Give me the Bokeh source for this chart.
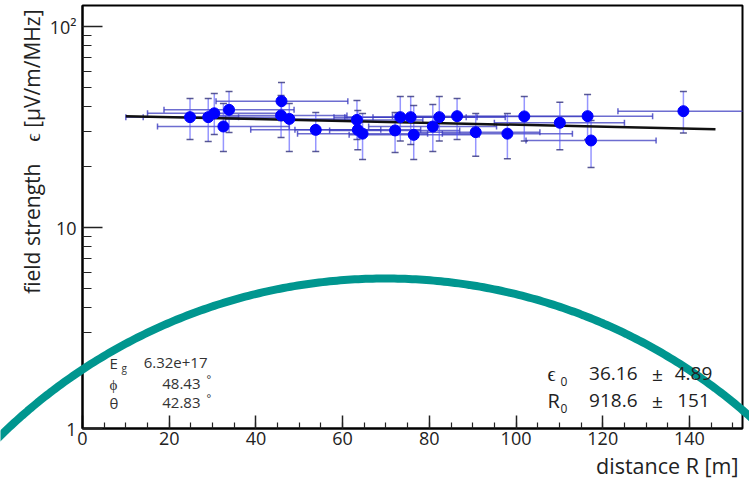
import numpy as np
from bokeh.plotting import figure
from bokeh.models import (Range1d, FixedTicker, SingleIntervalTicker, Whisker,
                          ColumnDataSource, Label, TeeHead, GridBox, Column)
from bokeh.embed import file_html
from bokeh.resources import INLINE

# ---------------- data ----------------
dist = [24.8, 29.0, 30.4, 32.5, 33.8, 45.9, 45.8, 47.7, 53.8, 63.3, 63.5, 64.6, 72.1,
        73.3, 75.7, 76.4, 80.8, 82.3, 86.4, 90.7, 98.0, 101.9, 110.1, 116.5, 117.3, 138.6]
field = [35.4, 35.4, 37.0, 31.8, 38.5, 42.5, 36.1, 34.7, 30.6, 34.3, 30.6, 29.3, 30.4,
         35.4, 35.4, 28.9, 31.8, 35.4, 35.8, 29.8, 29.3, 35.7, 33.2, 35.8, 27.1, 37.9]
field_hi = [43.8, 43.8, 46.4, 41.4, 47.5, 52.7, 45.4, 41.4, 37.3, 42.8, 38.2, 36.9, 37.3,
            44.8, 44.8, 40.5, 40.9, 44.8, 43.8, 36.9, 36.9, 44.8, 42.0, 45.9, 34.1, 47.5]
field_lo = [27.4, 26.8, 29.0, 23.9, 29.7, 34.1, 28.0, 23.9, 23.9, 27.4, 24.4, 21.8, 23.6,
            26.9, 25.9, 21.8, 23.9, 26.9, 27.4, 22.6, 22.0, 26.9, 24.4, 27.4, 19.9, 29.5]
dist_lo = [14.0, 10.0, 15.0, 17.3, 18.8, 30.8, 30.5, 33.0, 38.8, 48.0, 49.0, 49.6, 57.0,
           58.0, 60.5, 61.5, 66.0, 67.0, 71.5, 76.0, 83.0, 87.0, 95.0, 101.5, 102.3, 123.5]
dist_hi = [36.0, 48.0, 46.0, 47.7, 48.8, 61.2, 61.0, 62.5, 68.8, 78.5, 78.0, 79.6, 87.0,
           88.5, 91.0, 91.5, 95.5, 97.5, 101.5, 105.5, 113.0, 117.0, 125.0, 131.5, 132.3, 153.6]

fit_x = [10.0, 146.0]
fit_y = [35.8, 30.85]

y_ticks = [1, 10, 100]
y_minor = [2, 3, 4, 5, 6, 7, 8, 9, 20, 30, 40, 50, 60, 70, 80, 90]
y_tick_labels = {1: "1", 10: "10", 100: "10\u00b2"}

NB = "\u00a0"
y_title = "field strength" + NB * 4 + "\u03f5 [\u00b5V/m/MHz]"
x_title = "distance R [m]"
params_left = [("E", "g", "6.32e+17", ""), ("\u03d5", "", "48.43", "\u00b0"), ("\u03b8", "", "42.83", "\u00b0")]
params_right = [("\u03f5", "0", "36.16", "4.89"), ("R", "0", "918.6", "151")]

# ---------------- layout ----------------
W, H = 749, 481
BL, BR, BT, BB = 82, 7, 5, 53
FRAME_W = W - BL - BR
FRAME_H = H - BT - BB
PX_PER_X = 4.3355
PX_PER_DEC = 201.0
X_END = FRAME_W / PX_PER_X
Y_TOP = 10 ** (FRAME_H / PX_PER_DEC)

FONT = "Open Sans"
TEAL = "#00968f"

p = figure(width=W, height=H, x_range=Range1d(0, X_END), y_range=Range1d(1, Y_TOP),
           y_axis_type="log", output_backend="svg", toolbar_location=None,
           min_border_left=BL, min_border_right=BR, min_border_top=BT, min_border_bottom=BB)
p.xgrid.visible = False
p.ygrid.visible = False
p.outline_line_color = "black"
p.outline_line_width = 2
p.background_fill_color = "white"
p.border_fill_color = "white"

xa = p.xaxis[0]
xa.ticker = SingleIntervalTicker(interval=20, num_minor_ticks=4)
xa.major_tick_in = 13
xa.major_tick_out = 0
xa.minor_tick_in = 6
xa.minor_tick_out = 0
xa.major_label_standoff = 3

ya = p.yaxis[0]
ya.ticker = FixedTicker(ticks=y_ticks, minor_ticks=y_minor)
ya.major_label_overrides = y_tick_labels
ya.major_tick_in = 20
ya.major_tick_out = 0
ya.minor_tick_in = 9
ya.minor_tick_out = 0
ya.major_label_standoff = 6

for ax in (xa, ya):
    ax.axis_line_color = "black"
    ax.axis_line_width = 2
    ax.major_tick_line_color = "#222222"
    ax.minor_tick_line_color = "#222222"
    ax.major_tick_line_width = 1.5
    ax.minor_tick_line_width = 1.2
    ax.major_label_text_font = FONT
    ax.major_label_text_font_size = "18px"
    ax.major_label_text_color = "#222222"

# ---------------- data marks ----------------
src = ColumnDataSource(dict(x=dist, y=field, ylo=field_lo, yhi=field_hi, xlo=dist_lo, xhi=dist_hi))

wh = Whisker(base="y", lower="xlo", upper="xhi", source=src, dimension="width",
             line_color="#3c3cc0", line_alpha=0.75, line_width=1.5,
             upper_head=TeeHead(size=6, line_color="#3c3cc0", line_alpha=0.8, line_width=1.5),
             lower_head=TeeHead(size=6, line_color="#3c3cc0", line_alpha=0.8, line_width=1.5))
wv = Whisker(base="x", lower="ylo", upper="yhi", source=src, dimension="height",
             line_color="#5050ff", line_alpha=0.6, line_width=1.5,
             upper_head=TeeHead(size=7, line_color="#30307a", line_alpha=0.8, line_width=1.5),
             lower_head=TeeHead(size=7, line_color="#30307a", line_alpha=0.8, line_width=1.5))
p.add_layout(wh)
p.add_layout(wv)

p.line(fit_x, fit_y, line_color="#111111", line_width=2.5)
p.scatter("x", "y", source=src, size=11, color="#0000ff")

# ---------------- overlay figure in page pixels (texts + teal arc) ----------------
q = figure(width=W, height=H, x_range=Range1d(0, W), y_range=Range1d(H, 0),
           x_axis_location=None, y_axis_location=None, toolbar_location=None,
           output_backend="svg", min_border=0)
q.grid.visible = False
q.outline_line_color = None
q.background_fill_alpha = 0
q.border_fill_alpha = 0

def lab(sx, sy, text, size, align="left", baseline="middle", color="#222222", angle=0):
    q.add_layout(Label(x=sx, y=sy, text=text, text_font=FONT, text_font_size=size,
                       text_align=align, text_baseline=baseline, text_color=color,
                       angle=angle, angle_units="deg"))

lab(31, 9, y_title, "21px", align="right", angle=90)
lab(738, 465, x_title, "21.5px", align="right")

rows_y = [362, 383, 402]
for (sym, sub, val, unit), ry in zip(params_left, rows_y):
    lab(109, ry, sym, "15px", color="#333333")
    if sub:
        lab(121, ry + 5, sub, "10px", color="#333333")
    lab(207 if not unit else 200, ry, val, "15px", align="right", color="#333333")
    if unit:
        lab(206, ry - 5, unit, "11px", color="#333333")

rows_y2 = [373, 400]
for (sym, sub, val, err), ry in zip(params_right, rows_y2):
    lab(547, ry, sym, "20px")
    lab(560, ry + 8, sub, "12px")
    lab(637, ry, val, "19px", align="right")
    lab(657, ry, "\u00b1", "19px", align="center")
    lab(693, ry, err, "19px", align="center")

# decorative teal arc (circle in page pixels)
ARC_CX, ARC_CY, ARC_R = 385.0, 828.0, 550.0
a = np.linspace(-0.80, 0.76, 240)
q.line(ARC_CX + ARC_R * np.sin(a), ARC_CY - ARC_R * np.cos(a), line_color=TEAL, line_width=8)

layout = GridBox(children=[(p, 0, 0), (Column(children=[q]), 0, 0)])

open("out.html", "w").write(file_html(layout, INLINE))
